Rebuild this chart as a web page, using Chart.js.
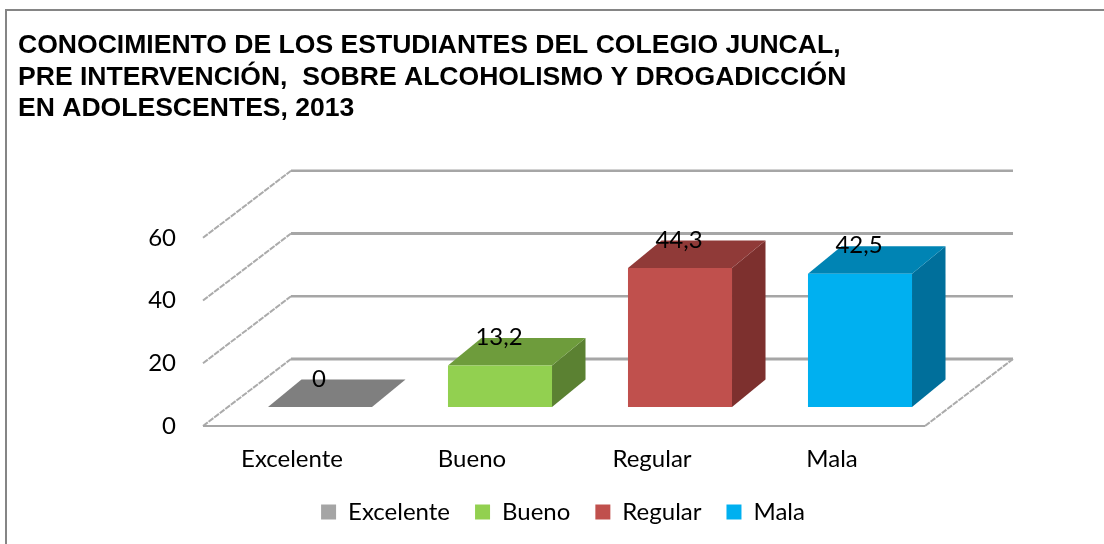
<!DOCTYPE html>
<html><head><meta charset="utf-8">
<style>html,body{margin:0;padding:0;background:#fff}#w{width:1104px;height:544px}</style>
<script src="https://cdn.jsdelivr.net/npm/chart.js@4"></script>
</head><body><div id="w"><canvas id="c" width="1104" height="544"></canvas></div>
<script>
const titleLines = ["CONOCIMIENTO DE LOS ESTUDIANTES DEL COLEGIO JUNCAL,","PRE INTERVENCIÓN,  SOBRE ALCOHOLISMO Y DROGADICCIÓN","EN ADOLESCENTES, 2013"];
const categories = ["Excelente","Bueno","Regular","Mala"];
const values = [0,13.2,44.3,42.5];
const frontColors = ["#A5A5A5","#92D050","#C0504D","#00B0F0"];
const topColors = ["#7F7F7F","#6E9C3C","#903A38","#0084B4"];
const sideColors = ["#6E6E6E","#5B8132","#7D302E","#006F9B"];
const FONT = "Lato";
const DEPTH_X = 33.5, DEPTH_Y = 27.5;      // bar depth
const FLOOR_FX = -27, FLOOR_FY = 19;       // front floor offset from the bar plane
const FLOOR_BX = 61, FLOOR_BY = -48;       // back wall offset from the bar plane
const FLOOR_RIGHT_EXTRA = 2;

const frame = {id:'frame',beforeDraw(ch){
  const c=ch.ctx;c.save();c.fillStyle='#fff';c.fillRect(0,0,ch.width,ch.height);
  c.strokeStyle='#858585';c.lineWidth=2;c.beginPath();c.moveTo(6,ch.height+2);c.lineTo(6,10);c.lineTo(ch.width+2,10);c.stroke();c.restore();
}};
const walls = {id:'walls',beforeDatasetsDraw(ch){
  const c=ch.ctx,y=ch.scales.y,a=ch.chartArea;
  const fl=a.left+FLOOR_FX, fr=a.right+FLOOR_FX+FLOOR_RIGHT_EXTRA, bl=a.left+FLOOR_BX, br=a.right+FLOOR_BX+FLOOR_RIGHT_EXTRA;
  c.save();c.lineCap='butt';
  y.ticks.forEach(t=>{
    const p=y.getPixelForValue(t.value);
    c.strokeStyle='#A6A6A6';
    c.lineWidth=(t.value===0||t.value===40)?3:2.4;
    c.beginPath();c.moveTo(bl,p+FLOOR_BY);c.lineTo(br,p+FLOOR_BY);c.stroke();
    c.lineWidth=2;c.strokeStyle='#ABABAB';c.setLineDash([6,1]);
    c.beginPath();c.moveTo(fl,p+FLOOR_FY);c.lineTo(bl,p+FLOOR_BY);c.stroke();
    if(t.value===0){c.beginPath();c.moveTo(fr,p+FLOOR_FY);c.lineTo(br,p+FLOOR_BY);c.stroke();
      c.setLineDash([]);c.lineWidth=2;c.strokeStyle='#A6A6A6';
      c.beginPath();c.moveTo(fl,p+FLOOR_FY);c.lineTo(fr,p+FLOOR_FY);c.stroke();}
    c.setLineDash([]);
  });
  const m=ch.getDatasetMeta(0);
  m.data.forEach((b,i)=>{
    const l=b.x-b.width/2,r=b.x+b.width/2,top=b.y,base=b.base;
    c.fillStyle=sideColors[i];c.beginPath();c.moveTo(r,top);c.lineTo(r+DEPTH_X,top-DEPTH_Y);c.lineTo(r+DEPTH_X,base-DEPTH_Y);c.lineTo(r,base);c.closePath();c.fill();
    c.fillStyle=topColors[i];c.beginPath();c.moveTo(l,top);c.lineTo(l+DEPTH_X,top-DEPTH_Y);c.lineTo(r+DEPTH_X,top-DEPTH_Y);c.lineTo(r,top);c.closePath();c.fill();
  });
  c.restore();
}};
const valueLabels = {id:'valueLabels',afterDatasetsDraw(ch){
  const c=ch.ctx;c.save();c.fillStyle='#000';c.font='24px '+FONT;c.textAlign='center';c.textBaseline='middle';
  ch.getDatasetMeta(0).data.forEach((b,i)=>c.fillText(String(values[i]).replace('.',','),b.x-1,b.y-28));
  c.restore();
}};
new Chart(document.getElementById('c'),{
  type:'bar',
  data:{labels:categories,datasets:[{data:values,backgroundColor:frontColors,categoryPercentage:1,barPercentage:0.578,borderWidth:0}]},
  plugins:[frame,walls,valueLabels],
  options:{
    responsive:false,animation:false,
    layout:{padding:{left:18,right:-4,top:0,bottom:10}},
    plugins:{
      tooltip:{enabled:false},
      title:{display:true,text:titleLines,align:'start',color:'#000',font:{family:'Liberation Sans',weight:'bold',size:26.55,lineHeight:1.19},padding:{top:30,bottom:94}},
      legend:{display:true,position:'bottom',labels:{
        font:{family:FONT,size:24},color:'#000',boxWidth:15,boxHeight:15,padding:25,
        generateLabels(){return categories.map((t,i)=>({text:t,fillStyle:frontColors[i],strokeStyle:frontColors[i],lineWidth:0,index:i}));}
      }}
    },
    scales:{
      x:{grid:{display:false,drawTicks:false},border:{display:false},
         afterFit(s){s.height=68;},
         ticks:{color:'#000',font:{family:FONT,size:24},padding:38,labelOffset:-28,maxRotation:0,autoSkip:false}},
      y:{min:0,max:60,grid:{display:false,drawTicks:false},border:{display:false},
         afterFit(s){s.width=212;},
         ticks:{stepSize:20,color:'#000',font:{family:FONT,size:24},padding:54,labelOffset:19,autoSkip:false}},
      spacer:{type:'linear',position:'right',grid:{display:false,drawTicks:false},border:{display:false},ticks:{display:false},
         afterFit(s){s.width=158;}}
    }
  }
});
</script></body></html>
